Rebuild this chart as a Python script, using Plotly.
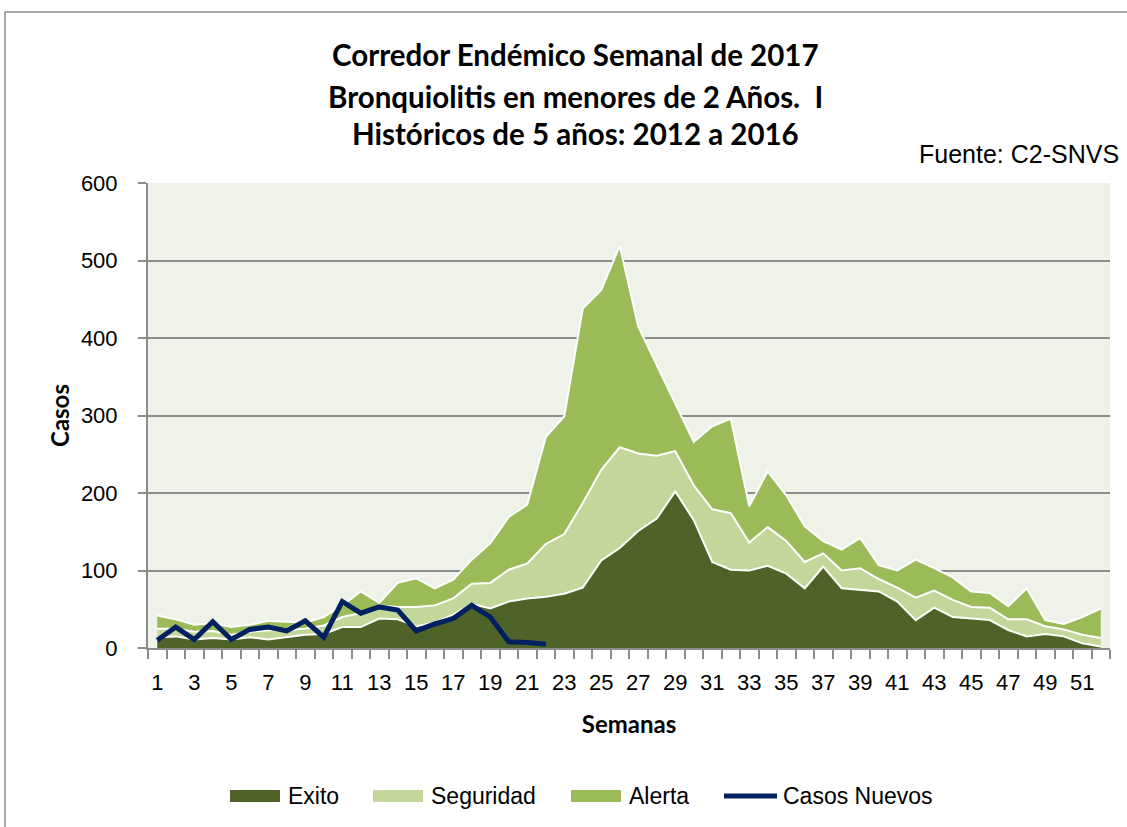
import plotly.graph_objects as go

# Epidemiological weeks
semanas = list(range(1, 53))

# Endemic corridor bands (upper boundary of each zone, cases)
exito = [14, 15, 11, 13, 11, 14, 11, 14, 17, 18,
         27, 27, 38, 37, 28, 33, 43, 57, 51, 60,
         64, 66, 70, 78, 113, 129, 151, 167, 202, 165,
         111, 101, 100, 106, 96, 77, 105, 77, 75, 73,
         60, 36, 52, 40, 38, 36, 23, 15, 18, 15,
         6, 2]
seguridad = [25, 25, 21, 22, 17, 21, 23, 23, 25, 29,
             40, 45, 55, 53, 53, 55, 64, 83, 84, 101,
             109, 134, 147, 187, 230, 259, 251, 248, 254, 210,
             179, 174, 136, 156, 138, 111, 122, 100, 103, 89,
             78, 65, 74, 62, 53, 52, 37, 37, 28, 24,
             17, 13]
alerta = [42, 37, 30, 32, 27, 30, 35, 34, 33, 40,
          55, 73, 58, 84, 90, 77, 88, 114, 135, 169,
          185, 272, 299, 438, 462, 519, 415, 365, 316, 266,
          286, 296, 183, 228, 197, 157, 138, 127, 142, 107,
          100, 114, 103, 91, 73, 71, 54, 77, 36, 31,
          40, 51]

# New cases reported in 2017
casos_nuevos = [10, 27, 11, 34, 11, 24, 27, 22, 35, 14,
                60, 45, 53, 49, 22, 31, 38, 55, 40, 8,
                7, 5]

x_ticks = [w for w in semanas if w % 2 == 1]
x_labels = [str(w) for w in x_ticks]

COL_EXITO = "#4F6228"
COL_SEG = "#C4D79B"
COL_ALERTA = "#9BBB59"
COL_CASOS = "#002060"
GRID = "#8C8C8C"

# plot-area geometry in pixels
W, H = 1127, 827
ML, MR, MT, MB = 148, 17, 183, 179
PW, PH = W - ML - MR, H - MT - MB


def px(x):
    return (x - ML) / PW


def py(y):
    return (H - MB - y) / PH


fig = go.Figure()

fig.add_trace(go.Scatter(
    x=semanas, y=exito, name="Exito", mode="lines",
    line=dict(color="white", width=2),
    fill="tozeroy", fillcolor=COL_EXITO, showlegend=False,
))
fig.add_trace(go.Scatter(
    x=semanas, y=seguridad, name="Seguridad", mode="lines",
    line=dict(color="white", width=2),
    fill="tonexty", fillcolor=COL_SEG, showlegend=False,
))
fig.add_trace(go.Scatter(
    x=semanas, y=alerta, name="Alerta", mode="lines",
    line=dict(color="white", width=2),
    fill="tonexty", fillcolor=COL_ALERTA, showlegend=False,
))
fig.add_trace(go.Scatter(
    x=semanas[:len(casos_nuevos)], y=casos_nuevos, name="Casos Nuevos",
    mode="lines", line=dict(color=COL_CASOS, width=5), showlegend=False,
))

title_font = dict(family="Lato", size=29.5, color="black")
annotations = []
for text, yy in [("<b>Corredor Endémico Semanal de 2017</b>", 54),
                 ("<b>Bronquiolitis en menores de 2 Años.  I</b>", 96),
                 ("<b>Históricos de 5 años: 2012 a 2016</b>", 133)]:
    annotations.append(dict(text=text, x=px(575), y=py(yy), xref="paper", yref="paper",
                            xanchor="center", yanchor="middle", showarrow=False,
                            font=title_font))
annotations.append(dict(text="Fuente: C2-SNVS", x=px(1121), y=py(154),
                        xref="paper", yref="paper", xanchor="right", yanchor="middle",
                        showarrow=False,
                        font=dict(family="Liberation Sans", size=25, color="black")))

# legend drawn as swatches + labels
shapes = []
legend_font = dict(family="Liberation Sans", size=23, color="black")
for name, color, x0, xt in [("Exito", COL_EXITO, 230, 286),
                            ("Seguridad", COL_SEG, 373, 429),
                            ("Alerta", COL_ALERTA, 571, 627)]:
    shapes.append(dict(type="rect", xref="paper", yref="paper",
                       x0=px(x0), x1=px(x0 + 50), y0=py(802), y1=py(790),
                       fillcolor=color, line=dict(width=0)))
    annotations.append(dict(text=name, x=px(xt), y=py(796), xref="paper", yref="paper",
                            xanchor="left", yanchor="middle", showarrow=False,
                            font=legend_font))
shapes.append(dict(type="line", xref="paper", yref="paper",
                   x0=px(724), x1=px(777), y0=py(796), y1=py(796),
                   line=dict(color=COL_CASOS, width=5)))
annotations.append(dict(text="Casos Nuevos", x=px(781), y=py(796), xref="paper",
                        yref="paper", xanchor="left", yanchor="middle",
                        showarrow=False, font=legend_font))

# chart frame
shapes.append(dict(type="rect", xref="paper", yref="paper",
                   x0=px(5), x1=px(1160), y0=py(860), y1=py(12),
                   line=dict(color=GRID, width=1.5), fillcolor="rgba(0,0,0,0)",
                   layer="below"))

fig.update_layout(
    width=W, height=H,
    margin=dict(l=ML, r=MR, t=MT, b=MB),
    paper_bgcolor="white",
    plot_bgcolor="#EFF2E9",
    font=dict(family="Liberation Sans", size=22, color="black"),
    showlegend=False,
    annotations=annotations,
    shapes=shapes,
)

fig.update_xaxes(
    range=[0.5, 52.5],
    tickmode="array", tickvals=x_ticks, ticktext=x_labels,
    ticks="", showgrid=False, zeroline=False,
    showline=True, linecolor=GRID, linewidth=2,
    minor=dict(tick0=0.5, dtick=1, ticks="outside", ticklen=9,
               tickcolor=GRID, tickwidth=1.5, showgrid=False),
    tickfont=dict(family="Liberation Sans", size=22, color="black"),
    ticklabelstandoff=14,
    title=dict(text="<b>Semanas</b>", font=dict(family="Lato", size=24, color="black"),
               standoff=22),
)
fig.update_yaxes(
    range=[0, 600], dtick=100, tick0=0,
    showgrid=True, gridcolor=GRID, gridwidth=2,
    zeroline=False, showline=True, linecolor=GRID, linewidth=2,
    ticks="outside", ticklen=8, tickcolor=GRID, tickwidth=2,
    tickfont=dict(family="Liberation Sans", size=22, color="black"),
    ticklabelstandoff=16,
    title=dict(text="<b>Casos</b>", font=dict(family="Lato", size=24, color="black"),
               standoff=4),
)

fig.write_html("out.html", config={"displayModeBar": False})
